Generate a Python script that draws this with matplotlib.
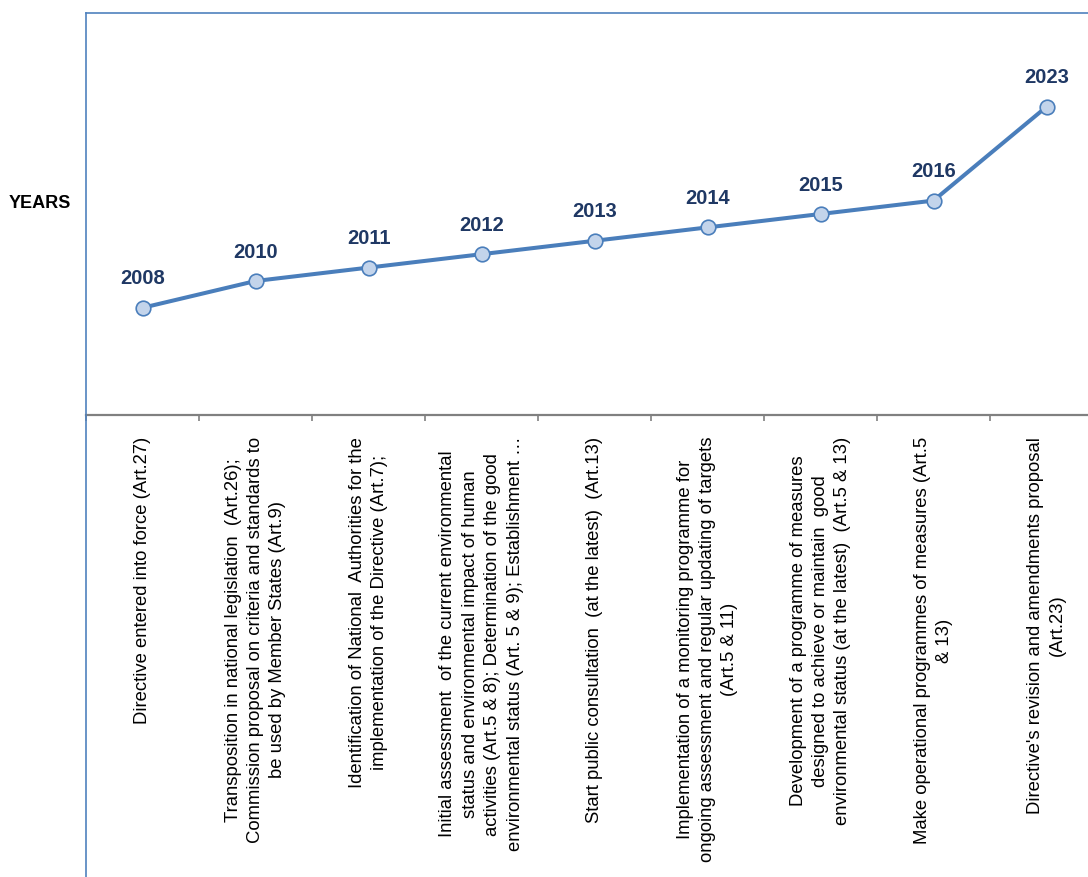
import numpy as np
import matplotlib
matplotlib.use('Agg')
import matplotlib.pyplot as plt
from matplotlib.lines import Line2D

years = [2008, 2010, 2011, 2012, 2013, 2014, 2015, 2016, 2023]
labels = [
    "Directive entered into force (Art.27)",
    "Transposition in national legislation  (Art.26);\nCommission proposal on criteria and standards to\nbe used by Member States (Art.9)",
    "Identification of National  Authorities for the\nimplementation of the Directive (Art.7);",
    "Initial assessment  of the current environmental\nstatus and environmental impact of human\nactivities (Art.5 & 8); Determination of the good\nenvironmental status (Art. 5 & 9); Establishment \u2026",
    "Start public consultation  (at the latest)  (Art.13)",
    "Implementation of a monitoring programme for\nongoing assessment and regular updating of targets\n(Art.5 & 11)",
    "Development of a programme of measures\ndesigned to achieve or maintain  good\nenvironmental status (at the latest)  (Art.5 & 13)",
    "Make operational programmes of measures (Art.5\n& 13)",
    "Directive's revision and amendments proposal\n(Art.23)",
]
y_label = "YEARS"

W, H = 1088, 878
fig = plt.figure(figsize=(W / 100, H / 100), dpi=100)
left = 86 / W
bottom = 1 - 416 / H
top = 1 - 14 / H
width = 113 * 9 / W
ax = fig.add_axes([left, bottom, width, top - bottom])

x = np.arange(len(years))
ax.plot(x, years, color='#4A7EBB', lw=2.9, marker='o', ms=10.5,
        mfc='#C3D4EB', mec='#4A7EBB', mew=1.2, zorder=3, clip_on=False)
ax.set_xlim(-0.5, len(years) - 0.5)
ax.set_ylim(2000, 2030)

for xi, yi in zip(x, years):
    ax.annotate(str(yi), (xi, yi), xytext=(0, 21.5), textcoords='offset points',
                ha='center', va='center', fontsize=14.5, fontweight='bold',
                color='#1F3864', family='Liberation Sans')

ax.set_yticks([])
ax.set_xticks(x)
ax.set_xticklabels(labels, rotation=90, ha='center', va='top',
                   multialignment='center', fontsize=13.3,
                   family='Liberation Sans', linespacing=1.42)
ax.tick_params(axis='x', which='major', length=0, pad=15)
ax.set_xticks(np.arange(-0.5, len(years), 1), minor=True)
ax.tick_params(axis='x', which='minor', length=4, color='#808080', width=1.2)

for s in ['top', 'left']:
    ax.spines[s].set_color('#4F81BD')
    ax.spines[s].set_linewidth(1.2)
ax.spines['bottom'].set_color('#808080')
ax.spines['bottom'].set_linewidth(1.6)
ax.spines['right'].set_visible(False)

fig.add_artist(Line2D([left, left], [0, bottom], transform=fig.transFigure,
                      color='#4F81BD', lw=1.2))
fig.text(40 / W, 1 - 203 / H, y_label, ha='center', va='center', fontsize=13,
         fontweight='bold', family='Liberation Sans')

fig.savefig('out.png', dpi=100)
